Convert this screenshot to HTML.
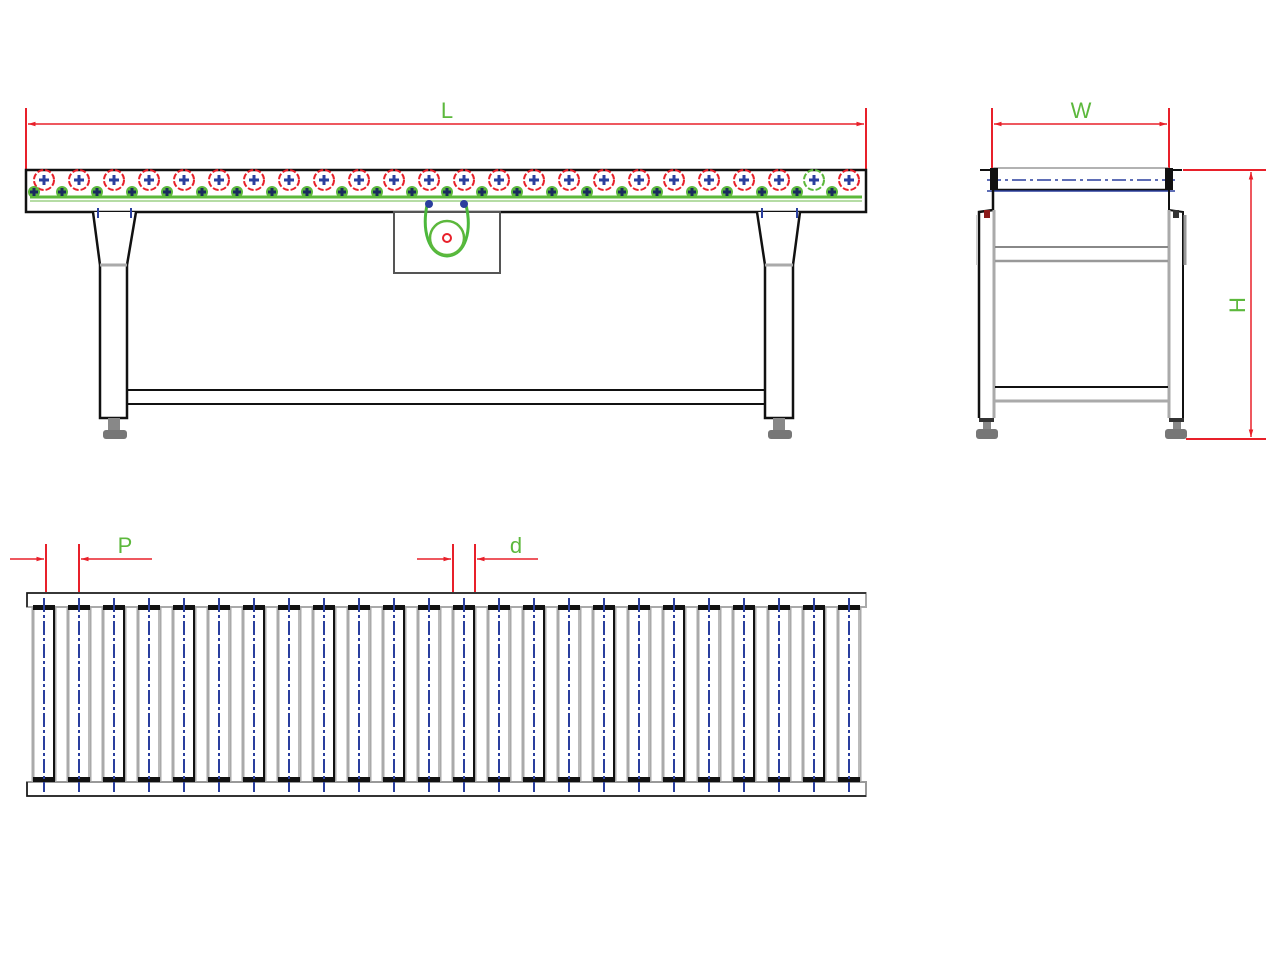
<!DOCTYPE html>
<html><head><meta charset="utf-8"><style>html,body{margin:0;padding:0;background:#fff}svg{display:block}</style></head>
<body>
<svg id="s" width="1280" height="960" viewBox="0 0 1280 960" xmlns="http://www.w3.org/2000/svg" font-family="Liberation Sans, sans-serif">
<defs>
<marker id="ar" viewBox="0 0 10 10" refX="10" refY="5" markerWidth="8" markerHeight="5" orient="auto-start-reverse"><path d="M0,2 L10,5 L0,8 z" fill="#e8202a"/></marker>
</defs>
<!-- SIDE VIEW -->
<g id="side">
<line x1="26" y1="108" x2="26" y2="170" stroke="#e8202a" stroke-width="2"/>
<line x1="866" y1="108" x2="866" y2="170" stroke="#e8202a" stroke-width="2"/>
<line x1="28" y1="124" x2="864" y2="124" stroke="#e8202a" stroke-width="1.5" marker-start="url(#ar)" marker-end="url(#ar)"/>
<text x="447" y="118" font-size="22" fill="#5cb83c" text-anchor="middle">L</text>
<rect x="26" y="170" width="840" height="42" fill="#fff" stroke="#111" stroke-width="2.5"/>
<line x1="30" y1="197" x2="862" y2="197" stroke="#5cb83c" stroke-width="3"/>
<line x1="30" y1="201" x2="862" y2="201" stroke="#b5dca5" stroke-width="2"/>
<g id="rollers"></g>
<!-- legs -->
<path d="M93,212 L100,265 L100,418 L127,418 L127,265 L136,212" fill="#fff" stroke="#111" stroke-width="2.5"/>
<line x1="100" y1="265" x2="127" y2="265" stroke="#aaa" stroke-width="3"/>
<path d="M757,212 L765,265 L765,418 L793,418 L793,265 L800,212" fill="#fff" stroke="#111" stroke-width="2.5"/>
<line x1="765" y1="265" x2="793" y2="265" stroke="#aaa" stroke-width="3"/>
<line x1="98" y1="208" x2="98" y2="218" stroke="#2a3f9e" stroke-width="2"/>
<line x1="131" y1="208" x2="131" y2="218" stroke="#2a3f9e" stroke-width="2"/>
<line x1="762" y1="208" x2="762" y2="218" stroke="#2a3f9e" stroke-width="2"/>
<line x1="797" y1="208" x2="797" y2="218" stroke="#2a3f9e" stroke-width="2"/>
<line x1="127" y1="390" x2="765" y2="390" stroke="#111" stroke-width="2"/>
<line x1="127" y1="404" x2="765" y2="404" stroke="#111" stroke-width="2"/>
<rect x="108" y="418" width="12" height="12" fill="#888"/><rect x="103" y="430" width="24" height="9" rx="3" fill="#777"/>
<rect x="773" y="418" width="12" height="12" fill="#888"/><rect x="768" y="430" width="24" height="9" rx="3" fill="#777"/>
<!-- motor -->
<rect x="394" y="212" width="106" height="61" fill="#fff" stroke="#555" stroke-width="2"/>
<path d="M427,205 C422,230 428,255 447,256 C466,255 472,230 466,205" fill="none" stroke="#4cb83c" stroke-width="3"/>
<circle cx="447" cy="238" r="17" fill="#fff" stroke="#5cb83c" stroke-width="2.5"/>
<circle cx="447" cy="238" r="4" fill="none" stroke="#e8202a" stroke-width="2"/>
<circle cx="429" cy="204" r="4" fill="#2a3f9e"/><circle cx="464" cy="204" r="4" fill="#2a3f9e"/>
</g>
<!-- END VIEW -->
<g id="end">
<line x1="992" y1="108" x2="992" y2="172" stroke="#e8202a" stroke-width="2"/>
<line x1="1169" y1="108" x2="1169" y2="172" stroke="#e8202a" stroke-width="2"/>
<line x1="994" y1="124" x2="1167" y2="124" stroke="#e8202a" stroke-width="1.5" marker-start="url(#ar)" marker-end="url(#ar)"/>
<text x="1081" y="118" font-size="22" fill="#5cb83c" text-anchor="middle">W</text>
<line x1="1183" y1="170" x2="1266" y2="170" stroke="#e8202a" stroke-width="2"/>
<line x1="1186" y1="439" x2="1266" y2="439" stroke="#e8202a" stroke-width="2"/>
<line x1="1251" y1="172" x2="1251" y2="437" stroke="#e8202a" stroke-width="1.5" marker-start="url(#ar)" marker-end="url(#ar)"/>
<text x="0" y="0" font-size="22" fill="#5cb83c" text-anchor="middle" transform="translate(1245,305) rotate(-90)">H</text>
<rect x="994" y="168" width="174" height="22" fill="#fff" stroke="#999" stroke-width="1.5"/>
<line x1="994" y1="190" x2="1168" y2="190" stroke="#111" stroke-width="2.5"/>
<line x1="987" y1="180" x2="1175" y2="180" stroke="#2a3f9e" stroke-width="1.5" stroke-dasharray="14,4,3,4"/>
<line x1="987" y1="191" x2="1175" y2="191" stroke="#2a3f9e" stroke-width="1.5"/>
<rect x="990" y="168" width="8" height="22" fill="#111"/><rect x="1165" y="168" width="8" height="22" fill="#111"/>
<line x1="980" y1="170" x2="994" y2="170" stroke="#111" stroke-width="2"/><line x1="1168" y1="170" x2="1182" y2="170" stroke="#111" stroke-width="2"/>
<path d="M993,190 L993,210 L979,212 L979,418" fill="none" stroke="#111" stroke-width="2.5"/>
<path d="M1169,190 L1169,210 L1183,212 L1183,418" fill="none" stroke="#111" stroke-width="2"/>
<line x1="994" y1="210" x2="994" y2="418" stroke="#aaa" stroke-width="3"/>
<line x1="1169" y1="210" x2="1169" y2="418" stroke="#aaa" stroke-width="3"/>
<line x1="1185" y1="215" x2="1185" y2="265" stroke="#999" stroke-width="3"/>
<line x1="977" y1="215" x2="977" y2="265" stroke="#ccc" stroke-width="2"/>
<rect x="984" y="210" width="6" height="8" fill="#8b1a1a"/><rect x="1173" y="210" width="6" height="8" fill="#333"/>
<line x1="995" y1="247" x2="1168" y2="247" stroke="#888" stroke-width="2"/>
<line x1="995" y1="261" x2="1168" y2="261" stroke="#999" stroke-width="2.5"/>
<line x1="995" y1="387" x2="1168" y2="387" stroke="#111" stroke-width="2"/>
<line x1="995" y1="401" x2="1168" y2="401" stroke="#aaa" stroke-width="3"/>
<rect x="979" y="418" width="15" height="4" fill="#333"/><rect x="983" y="422" width="8" height="8" fill="#888"/><rect x="976" y="429" width="22" height="10" rx="3" fill="#777"/>
<rect x="1169" y="418" width="15" height="4" fill="#333"/><rect x="1173" y="422" width="8" height="8" fill="#888"/><rect x="1165" y="429" width="22" height="10" rx="3" fill="#777"/>
</g>
<!-- TOP VIEW -->
<g id="top">
<line x1="10" y1="559" x2="44" y2="559" stroke="#e8202a" stroke-width="1.5" marker-end="url(#ar)"/>
<line x1="152" y1="559" x2="81" y2="559" stroke="#e8202a" stroke-width="1.5" marker-end="url(#ar)"/>
<line x1="46" y1="544" x2="46" y2="608" stroke="#e8202a" stroke-width="2"/>
<line x1="79" y1="544" x2="79" y2="608" stroke="#e8202a" stroke-width="2"/>
<text x="125" y="553" font-size="22" fill="#5cb83c" text-anchor="middle">P</text>
<line x1="417" y1="559" x2="451" y2="559" stroke="#e8202a" stroke-width="1.5" marker-end="url(#ar)"/>
<line x1="538" y1="559" x2="477" y2="559" stroke="#e8202a" stroke-width="1.5" marker-end="url(#ar)"/>
<line x1="453" y1="544" x2="453" y2="608" stroke="#e8202a" stroke-width="2"/>
<line x1="475" y1="544" x2="475" y2="608" stroke="#e8202a" stroke-width="2"/>
<text x="516" y="553" font-size="22" fill="#5cb83c" text-anchor="middle">d</text>
<rect x="27" y="593" width="839" height="14" fill="#fff" stroke="#aaa" stroke-width="2"/>
<path d="M27,607 L27,593 L866,593" fill="none" stroke="#111" stroke-width="1.5"/>
<rect x="27" y="782" width="839" height="14" fill="#fff" stroke="#999" stroke-width="2"/>
<path d="M27,782 L27,796 L866,796" fill="none" stroke="#111" stroke-width="1.5"/>
<g id="trollers"></g>
</g>
</svg>
<script>
var ns="http://www.w3.org/2000/svg";
function el(p,t,a){var e=document.createElementNS(ns,t);for(var k in a)e.setAttribute(k,a[k]);p.appendChild(e);return e;}
var r=document.getElementById("rollers"),t=document.getElementById("trollers");
for(var i=0;i<24;i++){var x=44+35*i;
 el(r,"circle",{cx:x,cy:180,r:10,fill:"none",stroke:(i==22?"#5cb83c":"#e8202a"),"stroke-width":2,"stroke-dasharray":"6,2"});
 el(r,"path",{d:"M"+(x-5)+",180 h10 M"+x+",175 v10",stroke:"#2a3f9e","stroke-width":3});
 var sx=(i==0?34:27+35*i);
 el(r,"circle",{cx:sx,cy:192,r:6,fill:"#5cb83c"});
 el(r,"path",{d:"M"+(sx-4)+",192 h8 M"+sx+",188 v8",stroke:"#1a2a5e","stroke-width":3});
 el(t,"rect",{x:x-11,y:608,width:22,height:172,fill:"#fff",stroke:"#aaa","stroke-width":3});
 el(t,"line",{x1:x+10,y1:608,x2:x+10,y2:780,stroke:(i%2==0?"#111":"#bbb"),"stroke-width":2});
 el(t,"rect",{x:x-11,y:605,width:22,height:5,fill:"#111"});
 el(t,"rect",{x:x-11,y:777,width:22,height:5,fill:"#111"});
 el(t,"line",{x1:x,y1:598,x2:x,y2:792,stroke:"#2a3f9e","stroke-width":2,"stroke-dasharray":"14,3,3,3"});
}
</script>
</body></html>
